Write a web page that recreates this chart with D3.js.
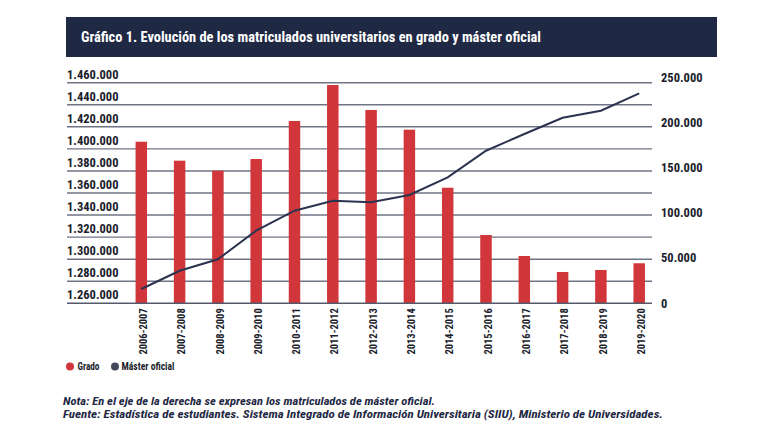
<!DOCTYPE html>
<html>
<head>
<meta charset="utf-8">
<script src="https://cdn.jsdelivr.net/npm/d3@7"></script>
<style>
  html, body { margin: 0; padding: 0; background: #ffffff; }
  svg { display: block; }
  text { font-family: "Liberation Sans Narrow", "Arial Narrow", "Roboto Condensed", "Liberation Sans", sans-serif; }
</style>
</head>
<body>
<svg id="chart" width="762" height="438"></svg>
<script>
// ---- data ----
const categories = ["2006-2007","2007-2008","2008-2009","2009-2010","2010-2011","2011-2012","2012-2013",
                    "2013-2014","2014-2015","2015-2016","2016-2017","2017-2018","2018-2019","2019-2020"];
const gradoValues = [1406500, 1389300, 1380200, 1390800, 1425300, 1457900, 1435300,
                     1417400, 1364800, 1321900, 1302900, 1288400, 1290200, 1296300];
const masterValues = [16200, 36900, 49900, 82300, 104900, 116300, 114500,
                      122700, 142800, 172900, 191900, 210300, 218300, 238000];
const leftTicks = [1260000, 1280000, 1300000, 1320000, 1340000, 1360000, 1380000,
                   1400000, 1420000, 1440000, 1460000];
const rightTicks = [0, 50000, 100000, 150000, 200000, 250000];
const titleText = "Gráfico 1. Evolución de los matriculados universitarios en grado y máster oficial";
const legendLabels = ["Grado", "Máster oficial"];
const noteLines = ["Nota: En el eje de la derecha se expresan los matriculados de máster oficial.",
                   "Fuente: Estadística de estudiantes. Sistema Integrado de Información Universitaria (SIIU), Ministerio de Universidades."];

// ---- styles ----
const RED = "#d1363b";
const NAVY = "#1f2944";
const LINE = "#2c3350";
const TEXT = "#1b1d2b";

const svg = d3.select("#chart");
const fmt = v => d3.format(",")(v).replace(/,/g, ".");

// title bar
svg.append("rect").attr("x", 66).attr("y", 17).attr("width", 651).attr("height", 40).attr("fill", NAVY);
svg.append("text").attr("x", 81).attr("y", 42).attr("fill", "#ffffff")
  .attr("font-size", 15).attr("font-weight", "bold")
  .attr("textLength", 460).attr("lengthAdjust", "spacingAndGlyphs")
  .text(titleText);

// scales
const plotLeft = 67, plotRight = 652, yTop = 82.7, yBottom = 303.3;
const yLeft = d3.scaleLinear().domain([1260000, 1460000]).range([yBottom, yTop]);
const yRight = d3.scaleLinear().domain([0, 250000]).range([yBottom, yTop]);
const yRightLabel = d3.scaleLinear().domain([0, 250000]).range([302.8, 76.8]);
const x = d3.scaleBand().domain(categories).range([122.15, 658.35]).paddingInner(0.7).paddingOuter(0.35);

// gridlines
svg.append("g").selectAll("line").data(leftTicks.slice(1)).join("line")
  .attr("x1", plotLeft).attr("x2", plotRight)
  .attr("y1", d => yLeft(d)).attr("y2", d => yLeft(d))
  .attr("stroke", "#6f7485").attr("stroke-width", 1.4);

// bars
svg.append("g").selectAll("rect").data(gradoValues).join("rect")
  .attr("x", (d, i) => x(categories[i]))
  .attr("width", x.bandwidth())
  .attr("y", d => yLeft(d))
  .attr("height", d => yBottom - yLeft(d))
  .attr("fill", RED);

// baseline
svg.append("line").attr("x1", plotLeft).attr("x2", plotRight)
  .attr("y1", yBottom).attr("y2", yBottom).attr("stroke", "#555a6a").attr("stroke-width", 1.6);

// master line
const line = d3.line()
  .x((d, i) => x(categories[i]) + x.bandwidth() / 2)
  .y(d => yRight(d));
svg.append("path").datum(masterValues).attr("d", line)
  .attr("fill", "none").attr("stroke", LINE).attr("stroke-width", 2);

// left axis labels
const leftAxis = d3.axisLeft(yLeft).tickValues(leftTicks).tickFormat(fmt).tickSize(0);
const gL = svg.append("g").attr("transform", `translate(${plotLeft},0)`).call(leftAxis);
gL.select(".domain").remove();
gL.selectAll("text").attr("x", 0).attr("dy", "-0.37em").attr("text-anchor", "start")
  .attr("font-size", 12.5).attr("font-weight", "bold").attr("fill", TEXT)
  .style("font-family", null);
gL.attr("font-family", null);

// right axis labels
const rightAxis = d3.axisRight(yRightLabel).tickValues(rightTicks).tickFormat(fmt).tickSize(0);
const gR = svg.append("g").attr("transform", `translate(661,0)`).call(rightAxis);
gR.select(".domain").remove();
gR.selectAll("text").attr("x", 0).attr("dy", "0.35em")
  .attr("font-size", 12.5).attr("font-weight", "bold").attr("fill", TEXT);
gR.attr("font-family", null);

// x axis labels
const xAxis = d3.axisBottom(x).tickSize(0);
const gX = svg.append("g").attr("transform", `translate(0,${yBottom})`).call(xAxis);
gX.select(".domain").remove();
gX.attr("font-family", null);
gX.selectAll("text")
  .attr("transform", "rotate(-90)")
  .attr("x", -5).attr("y", 2).attr("dy", "0.35em")
  .attr("text-anchor", "end")
  .attr("font-size", 10.5).attr("font-weight", "bold").attr("fill", TEXT);

// legend
const legend = svg.append("g");
const legendItems = [{c: RED, cx: 70, tx: 77.5, w: 22}, {c: "#43475a", cx: 115, tx: 121.5, w: 53}];
legendItems.forEach((it, i) => {
  legend.append("circle").attr("cx", it.cx).attr("cy", 366.5).attr("r", 4).attr("fill", it.c);
  legend.append("text").attr("x", it.tx).attr("y", 370).attr("font-size", 10)
    .attr("font-weight", "bold").attr("fill", TEXT)
    .attr("textLength", it.w).attr("lengthAdjust", "spacingAndGlyphs")
    .text(legendLabels[i]);
});

// notes
const noteW = [372, 600];
noteLines.forEach((t, i) => {
  svg.append("text").attr("x", 63).attr("y", 405 + i * 12.5)
    .attr("font-size", 11).attr("font-weight", "bold").attr("font-style", "italic")
    .attr("fill", NAVY)
    .attr("textLength", noteW[i]).attr("lengthAdjust", "spacingAndGlyphs")
    .text(t);
});
</script>
</body>
</html>
